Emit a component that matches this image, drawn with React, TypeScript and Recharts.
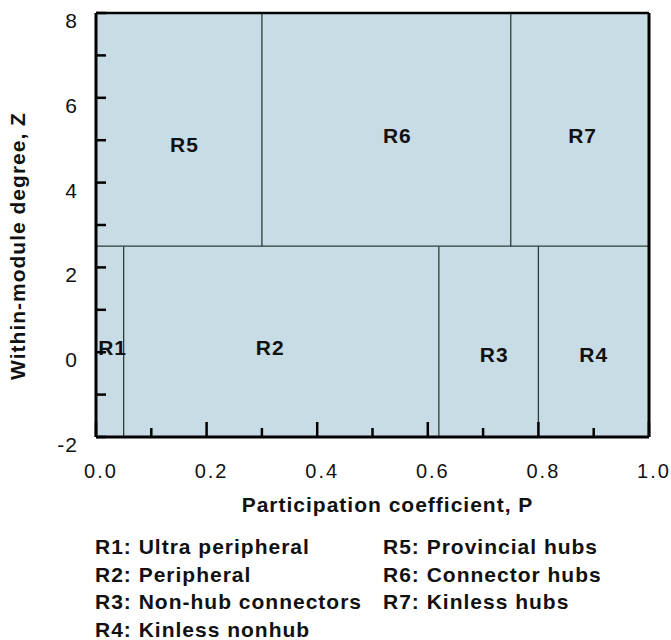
import React from "react";
import {
  CartesianGrid,
  Label,
  ReferenceLine,
  Scatter,
  ScatterChart,
  XAxis,
  YAxis,
} from "recharts";

// region labels placed in P-Z space
const regionNames = ["R1", "R2", "R3", "R4", "R5", "R6", "R7"];
const regionP = [0.03, 0.315, 0.72, 0.9, 0.16, 0.545, 0.88];
const regionZ = [0.1, 0.1, -0.05, -0.05, 4.9, 5.1, 5.1];

// role boundaries
const hubZ = 2.5;
const nonHubBounds = [0.05, 0.62, 0.8];
const hubBounds = [0.3, 0.75];

const xTicks = [0, 0.1, 0.2, 0.3, 0.4, 0.5, 0.6, 0.7, 0.8, 0.9, 1];
const yTicks = [-2, -1, 0, 1, 2, 3, 4, 5, 6, 7, 8];

const legendLeft = [
  "R1: Ultra peripheral",
  "R2: Peripheral",
  "R3: Non-hub connectors",
  "R4: Kinless nonhub",
];
const legendRight = ["R5: Provincial hubs", "R6: Connector hubs", "R7: Kinless hubs"];

const FONT = "'Liberation Sans', Arial, Helvetica, sans-serif";
const FILL = "#c8dce6";
const EDGE = "#2c3d3d";

const regionData = regionNames.map((name, i) => ({ name, p: regionP[i], z: regionZ[i] }));

function XTick(props: any) {
  const { x, y, payload } = props;
  const v = payload.value;
  const major = Math.round(v * 10) % 2 === 0;
  return (
    <g>
      <line x1={x} x2={x} y1={y} y2={y - (major ? 15 : 9)} stroke="#000" strokeWidth={2.5} />
      {major && (
        <text x={x + 5} y={y + 41} textAnchor="middle" fontFamily={FONT} fontSize={20} letterSpacing={2} fill="#111">
          {v.toFixed(1)}
        </text>
      )}
    </g>
  );
}

function YTick(props: any) {
  const { x, y, payload } = props;
  const v = payload.value;
  return (
    <g>
      <line x1={x} x2={x + 10} y1={y} y2={y} stroke="#000" strokeWidth={2.5} />
      {v % 2 === 0 && (
        <text x={x - 18} y={y + 15} textAnchor="end" fontFamily={FONT} fontSize={21} letterSpacing={1} fill="#111">
          {v}
        </text>
      )}
    </g>
  );
}

function RegionLabel(props: any) {
  const { cx, cy, payload } = props;
  return (
    <text x={cx} y={cy + 7.5} textAnchor="middle" fontFamily={FONT} fontWeight="bold" fontSize={21} letterSpacing={1} fill="#111">
      {payload.name}
    </text>
  );
}

const legendStyle: React.CSSProperties = {
  position: "absolute",
  top: 533,
  fontFamily: FONT,
  fontWeight: "bold",
  fontSize: 21,
  letterSpacing: 1,
  lineHeight: "27.5px",
  color: "#111",
  whiteSpace: "nowrap",
};

export default function App() {
  return (
    <div style={{ position: "absolute", left: 0, top: 0, width: 671, height: 640, background: "#fff" }}>
      <ScatterChart width={671} height={640} margin={{ top: 13, right: 22, bottom: 143, left: 36 }}>
        <CartesianGrid fill={FILL} fillOpacity={1} horizontal={false} vertical={false} stroke="none" />
        <XAxis
          type="number"
          dataKey="p"
          domain={[0, 1]}
          ticks={xTicks}
          interval={0}
          height={60}
          tickSize={0}
          tickMargin={0}
          tickLine={false}
          axisLine={{ stroke: "#000", strokeWidth: 3 }}
          tick={<XTick />}
        >
          <Label
            content={(p: any) => {
              const vb = p.viewBox;
              return (
                <text x={vb.x + vb.width / 2 + 15} y={vb.y + 75} textAnchor="middle" fontFamily={FONT} fontWeight="bold" fontSize={21} letterSpacing={1} fill="#111">
                  Participation coefficient, P
                </text>
              );
            }}
          />
        </XAxis>
        <YAxis
          type="number"
          dataKey="z"
          domain={[-2, 8]}
          ticks={yTicks}
          interval={0}
          width={60}
          tickSize={0}
          tickMargin={0}
          tickLine={false}
          axisLine={{ stroke: "#000", strokeWidth: 3 }}
          tick={<YTick />}
        >
          <Label
            content={(p: any) => {
              const vb = p.viewBox;
              const cx = vb.x - 11;
              const cy = vb.y + vb.height / 2 + 21;
              return (
                <text x={cx} y={cy} transform={`rotate(-90, ${cx}, ${cy})`} textAnchor="middle" fontFamily={FONT} fontWeight="bold" fontSize={21} letterSpacing={1} fill="#111">
                  Within-module degree, Z
                </text>
              );
            }}
          />
        </YAxis>
        <ReferenceLine y={hubZ} stroke={EDGE} strokeWidth={1.3} />
        {nonHubBounds.map((p) => (
          <ReferenceLine key={`n${p}`} segment={[{ x: p, y: -2 }, { x: p, y: hubZ }]} stroke={EDGE} strokeWidth={1.3} />
        ))}
        {hubBounds.map((p) => (
          <ReferenceLine key={`h${p}`} segment={[{ x: p, y: hubZ }, { x: p, y: 8 }]} stroke={EDGE} strokeWidth={1.3} />
        ))}
        <ReferenceLine y={8} stroke="#000" strokeWidth={2.5} />
        <ReferenceLine x={1} stroke="#000" strokeWidth={3} />
        <Scatter data={regionData} shape={<RegionLabel />} isAnimationActive={false} />
      </ScatterChart>
      <div style={{ ...legendStyle, left: 95 }}>
        {legendLeft.map((t) => (
          <div key={t}>{t}</div>
        ))}
      </div>
      <div style={{ ...legendStyle, left: 383 }}>
        {legendRight.map((t) => (
          <div key={t}>{t}</div>
        ))}
      </div>
    </div>
  );
}
